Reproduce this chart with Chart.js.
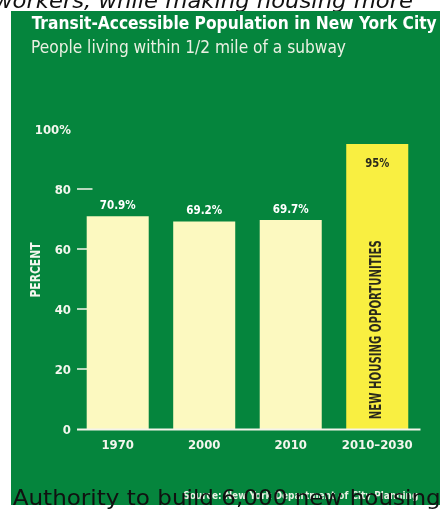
<!DOCTYPE html>
<html><head><meta charset="utf-8">
<script src="https://cdn.jsdelivr.net/npm/chart.js@4"></script>
<style>html,body{margin:0;padding:0;background:#fff;overflow:hidden}#c{position:absolute;left:0;top:0}</style>
</head><body><canvas id="c" width="440" height="510"></canvas>
<script>
const categories = ['1970', '2000', '2010', '2010–2030'];
const percentValues = [70.9, 69.2, 69.7, 95];
const valueLabels = ['70.9%', '69.2%', '69.7%', '95%'];
const yTickValues = [0, 20, 40, 60, 80, 100];
const yTickLabels = ['0', '20', '40', '60', '80', '100%'];
const titleText = 'Transit-Accessible Population in New York City';
const subtitleText = 'People living within 1/2 mile of a subway';
const axisTitle = 'PERCENT';
const barNote = 'NEW HOUSING OPPORTUNITIES';
const sourceText = 'Source: New York Department of City Planning';
const pageTextTop = 'workers, while making housing more';
const pageTextBottom = 'Authority to build 6,000 new housing';

const COND = '"DejaVu Sans Condensed", "Liberation Sans Narrow", "DejaVu Sans", sans-serif';
const GREEN = '#05853d';

function fitText(ctx, text, x, y, w, align) {
  const m = ctx.measureText(text).width;
  const s = w / m;
  ctx.save();
  ctx.translate(x, y);
  ctx.scale(s, 1);
  ctx.textAlign = align;
  ctx.fillText(text, 0, 0);
  ctx.restore();
}

const decor = {
  id: 'decor',
  beforeDraw(chart) {
    const ctx = chart.ctx;
    ctx.save();
    ctx.textBaseline = 'alphabetic';
    ctx.fillStyle = '#111';
    ctx.font = 'italic 21px "DejaVu Sans", sans-serif';
    fitText(ctx, pageTextTop, -6, 8, 419, 'left');
    ctx.fillStyle = GREEN;
    ctx.fillRect(11, 11, 429, 494);
    ctx.fillStyle = '#ffffff';
    ctx.font = 'bold 18px ' + COND;
    fitText(ctx, titleText, 31.7, 29, 405, 'left');
    ctx.fillStyle = '#eaf0e2';
    ctx.font = '18px ' + COND;
    fitText(ctx, subtitleText, 31, 52.7, 315, 'left');
    ctx.restore();
  },
  beforeDatasetsDraw(chart) {
    const ctx = chart.ctx, y = chart.scales.y;
    ctx.save();
    ctx.strokeStyle = '#f4f4ea';
    ctx.lineWidth = 1.5;
    yTickValues.forEach(v => {
      if (v === 0 || v === 100) return;
      const py = y.getPixelForValue(v);
      ctx.beginPath();
      ctx.moveTo(77, py);
      ctx.lineTo(92.5, py);
      ctx.stroke();
    });
    ctx.fillStyle = '#f4f6ee';
    ctx.font = 'bold 14px ' + COND;
    ctx.textBaseline = 'middle';
    ctx.translate(36, 270);
    ctx.rotate(-Math.PI / 2);
    fitText(ctx, axisTitle, 0, 0, 55, 'center');
    ctx.restore();
  },
  afterDatasetsDraw(chart) {
    const ctx = chart.ctx, y = chart.scales.y;
    const meta = chart.getDatasetMeta(0);
    ctx.save();
    ctx.textBaseline = 'alphabetic';
    ctx.font = 'bold 13px ' + COND;
    meta.data.forEach((bar, i) => {
      if (i < 3) {
        ctx.fillStyle = '#ffffff';
        fitText(ctx, valueLabels[i], bar.x, bar.y - 7, 36, 'center');
      } else {
        ctx.fillStyle = '#2a2a1c';
        fitText(ctx, valueLabels[i], bar.x, bar.y + 22.5, 24, 'center');
        ctx.save();
        ctx.font = 'bold 16px ' + COND;
        ctx.textBaseline = 'middle';
        ctx.translate(bar.x, 329.7);
        ctx.rotate(-Math.PI / 2);
        fitText(ctx, barNote, 0, 0, 179, 'center');
        ctx.restore();
      }
    });
    const py0 = y.getPixelForValue(0);
    ctx.strokeStyle = '#f4f4ea';
    ctx.lineWidth = 2;
    ctx.beginPath();
    ctx.moveTo(77, py0 + 0.5);
    ctx.lineTo(420.5, py0 + 0.5);
    ctx.stroke();
    ctx.restore();
  },
  afterDraw(chart) {
    const ctx = chart.ctx;
    ctx.save();
    ctx.textBaseline = 'alphabetic';
    ctx.fillStyle = '#e9f1e4';
    ctx.font = 'bold 10px ' + COND;
    fitText(ctx, sourceText, 183.3, 499, 235, 'left');
    ctx.fillStyle = '#111';
    ctx.font = '21px "DejaVu Sans", sans-serif';
    fitText(ctx, pageTextBottom, 12.7, 505, 428, 'left');
    ctx.restore();
  }
};

new Chart(document.getElementById('c'), {
  type: 'bar',
  data: {
    labels: categories,
    datasets: [{
      data: percentValues,
      backgroundColor: ['#fcf9c0', '#fcf9c0', '#fcf9c0', '#f9ef41'],
      borderWidth: 0,
      categoryPercentage: 1,
      barPercentage: 0.717
    }]
  },
  options: {
    responsive: false,
    animation: false,
    events: [],
    layout: { padding: { left: 14.45, right: 19.5, top: 129, bottom: 41 } },
    plugins: { legend: { display: false }, tooltip: { enabled: false }, title: { display: false } },
    scales: {
      x: {
        grid: { display: false, drawTicks: false },
        border: { display: false },
        ticks: { color: '#f4f6ee', font: { family: COND, size: 13, weight: 'bold' }, padding: 9, maxRotation: 0, autoSkip: false },
        afterFit(s) { s.height = 40; }
      },
      y: {
        min: 0, max: 100,
        grid: { display: false, drawTicks: false },
        border: { display: false },
        afterBuildTicks(s) { s.ticks = yTickValues.map(v => ({ value: v })); },
        ticks: {
          color: '#f4f6ee',
          font: { family: COND, size: 13, weight: 'bold' },
          padding: 3.5,
          labelOffset: 1.5,
          callback(v) { const i = yTickValues.indexOf(v); return i >= 0 ? yTickLabels[i] : ''; }
        },
        afterFit(s) { s.width = 60; }
      }
    }
  },
  plugins: [decor]
});
</script>
</body></html>
